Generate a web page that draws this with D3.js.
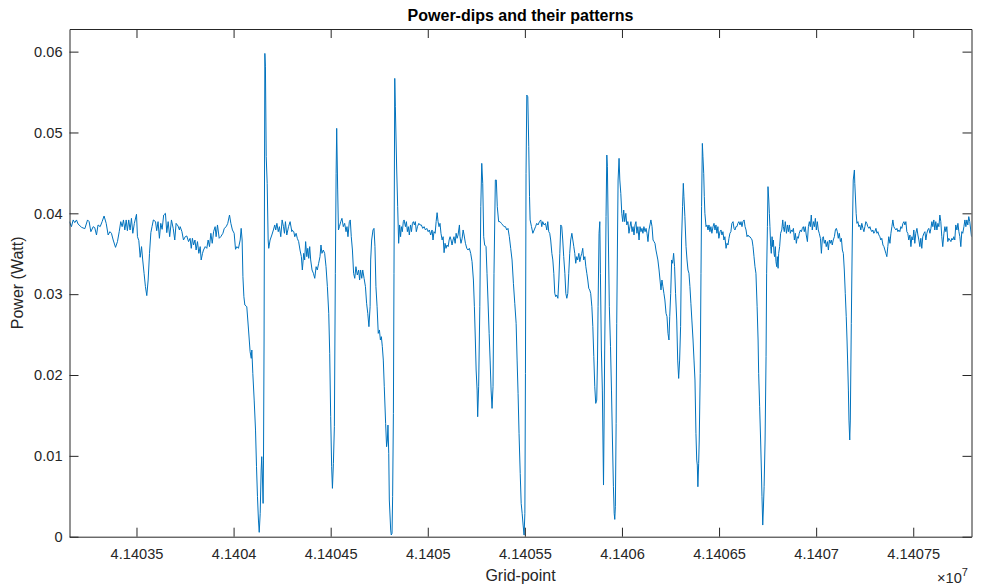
<!DOCTYPE html>
<html>
<head>
<meta charset="utf-8">
<script src="https://cdn.jsdelivr.net/npm/d3@7"></script>
<style>
  html, body { margin: 0; padding: 0; background: #fff; }
  svg { display: block; font-family: "Liberation Sans", Arial, Helvetica, sans-serif; }
</style>
</head>
<body>
<svg id="chart" width="982" height="587"></svg>
<script>
// Grid-point index of each sample
const gridPoint = [
  41403155,41403165,41403174,41403182,41403191,41403199,41403217,41403234,41403248,41403256,41403265,41403277,41403285,41403294,41403302,41403313,41403323,41403333,41403344,41403354,41403363,41403371,41403380,41403392,41403402,41403411,41403419,41403426,41403433,41403440,41403447,41403453,41403460,41403467,41403474,41403481,41403489,41403500,41403505,41403512,41403519,41403526,41403532,41403539,41403546,41403553,41403560,41403567,41403574,41403580,41403587,41403598,41403604,41403611,41403618,41403625,41403632,41403640,41403649,41403656,41403663,41403671,41403680,41403689,41403697,41403704,41403714,41403721,
  41403725,41403734,41403742,41403751,41403759,41403768,41403776,41403782,41403788,41403794,41403801,41403807,41403814,41403821,41403828,41403833,41403840,41403845,41403854,41403862,41403869,41403876,41403883,41403890,41403897,41403905,41403910,41403917,41403926,41403934,41403945,41403952,41403962,41403970,41403979,41403986,41403994,41404003,41404010,41404017,41404025,41404034,41404039,41404044,41404048,41404053,41404058,41404068,41404077,41404085,41404091,41404094,41404099,41404106,41404113,41404118,41404123,41404128,41404132,41404137,41404142,41404145,41404149,41404152,41404154,41404157,41404161,41404164,41404168,41404173,41404178,41404181,41404188,41404197,41404205,41404212,41404217,41404223,41404230,41404236,41404243,41404250,41404257,41404262,41404267,41404274,41404283,41404291,41404300,
  41404301,41404310,41404315,41404322,41404328,41404335,41404342,41404349,41404354,41404361,41404366,41404371,41404377,41404382,41404387,41404392,41404397,41404404,41404411,41404418,41404425,41404431,41404438,41404445,41404450,41404455,41404462,41404469,41404476,41404483,41404490,41404495,41404500,41404505,41404509,41404514,41404519,41404524,41404528,41404531,41404536,41404540,41404545,41404552,41404558,41404565,41404572,41404579,41404584,41404589,41404596,41404601,41404606,41404612,41404618,41404624,41404630,41404637,41404644,41404649,41404654,41404660,41404665,41404672,41404679,41404685,41404691,41404697,41404703,41404706,41404711,41404718,41404723,41404728,41404733,41404739,41404745,41404751,41404756,41404761,41404766,41404771,41404776,41404783,41404788,41404792,41404795,41404799,41404802,41404809,41404812,41404816,41404819,41404823,41404826,41404830,41404833,41404840,41404845,41404850,41404855,41404860,41404864,41404869,41404874,
  41404878,41404885,41404890,41404895,41404900,41404905,41404911,41404916,41404921,41404926,41404931,41404936,41404941,41404947,41404954,41404960,41404967,41404974,41404981,41404988,41404995,41405002,41405008,41405015,41405022,41405027,41405032,41405038,41405043,41405048,41405053,41405058,41405063,41405068,41405074,41405079,41405084,41405089,41405094,41405099,41405105,41405110,41405115,41405120,41405125,41405130,41405135,41405141,41405146,41405151,41405156,41405163,41405166,41405171,41405177,41405182,41405187,41405194,41405201,41405207,41405214,41405221,41405228,41405235,41405240,41405245,41405249,41405254,41405257,41405262,41405268,41405273,41405278,41405283,41405288,41405293,41405300,41405305,41405310,41405316,41405321,41405326,41405331,41405336,41405341,41405348,41405353,41405358,41405365,41405372,41405379,41405386,41405393,41405400,41405407,41405413,41405420,41405427,41405434,41405441,41405448,
  41405455,41405460,41405465,41405470,41405476,41405481,41405486,41405491,41405496,41405500,41405503,41405506,41405510,41405515,41405520,41405524,41405527,41405534,41405541,41405548,41405555,41405561,41405568,41405575,41405582,41405587,41405592,41405599,41405606,41405613,41405618,41405623,41405628,41405633,41405639,41405644,41405649,41405654,41405659,41405664,41405670,41405675,41405680,41405685,41405690,41405695,41405700,41405706,41405711,41405716,41405721,41405726,41405731,41405736,41405742,41405747,41405752,41405757,41405762,41405767,41405772,41405778,41405783,41405788,41405793,41405798,41405803,41405809,41405814,41405819,41405824,41405829,41405834,41405839,41405845,41405850,41405855,41405860,41405865,41405870,41405874,41405877,41405882,41405886,41405889,41405894,41405899,41405905,41405908,41405911,41405915,41405918,41405922,41405925,41405930,41405935,41405941,41405946,41405951,41405956,41405960,41405963,41405966,41405970,41405973,41405977,41405980,41405985,41405989,41405994,41405999,41406004,41406009,41406014,41406020,41406025,41406030,
  41406031,41406036,41406041,41406046,41406052,41406057,41406062,41406067,41406072,41406077,41406082,41406088,41406093,41406098,41406103,41406108,41406113,41406119,41406124,41406129,41406134,41406139,41406144,41406149,41406155,41406160,41406165,41406170,41406175,41406180,41406185,41406191,41406196,41406201,41406206,41406211,41406216,41406221,41406227,41406232,41406237,41406242,41406246,41406251,41406256,41406261,41406266,41406271,41406276,41406282,41406287,41406292,41406297,41406302,41406307,41406312,41406316,41406319,41406324,41406330,41406335,41406340,41406345,41406350,41406355,41406360,41406366,41406371,41406376,41406381,41406385,41406388,41406391,41406395,41406398,41406403,41406407,41406410,41406414,41406417,41406421,41406424,41406427,41406433,41406438,41406443,41406448,41406453,41406458,41406463,41406469,41406474,41406479,41406484,41406489,41406494,41406499,41406505,41406510,41406515,41406520,41406525,41406530,41406536,41406541,41406546,41406551,41406556,41406561,41406566,41406572,41406577,41406582,41406587,41406592,41406597,41406602,
  41406608,41406613,41406618,41406623,41406629,41406634,41406639,41406644,41406649,41406654,41406659,41406665,41406670,41406675,41406680,41406685,41406690,41406696,41406701,41406704,41406709,41406714,41406718,41406721,41406725,41406728,41406732,41406737,41406742,41406745,41406749,41406752,41406756,41406759,41406762,41406766,41406769,41406773,41406776,41406780,41406783,41406786,41406790,41406793,41406797,41406800,41406804,41406807,41406812,41406817,41406823,41406828,41406831,41406836,41406841,41406847,41406852,41406857,41406862,41406867,41406872,41406877,41406883,41406888,41406893,41406898,41406903,41406908,41406913,41406919,41406924,41406929,41406934,41406939,41406944,41406949,41406955,41406960,41406965,41406970,41406975,41406980,41406986,41406991,41406996,41407001,41407006,41407011,41407016,41407022,41407027,41407032,41407037,41407042,41407047,41407052,41407058,41407063,41407068,41407073,41407078,41407083,41407088,41407094,41407099,41407104,41407109,41407114,41407119,41407125,41407130,41407135,41407140,41407145,41407150,41407155,41407159,41407162,41407166,41407169,41407173,41407176,41407181,41407186,41407191,41407197,
  41407199,41407203,41407206,41407210,41407215,41407220,41407225,41407230,41407235,41407241,41407246,41407251,41407256,41407261,41407266,41407272,41407277,41407282,41407287,41407292,41407297,41407302,41407308,41407313,41407318,41407323,41407328,41407333,41407338,41407344,41407349,41407354,41407359,41407364,41407369,41407374,41407380,41407385,41407390,41407395,41407400,41407405,41407411,41407416,41407421,41407426,41407431,41407436,41407441,41407447,41407452,41407457,41407462,41407467,41407472,41407477,41407483,41407488,41407493,41407498,41407503,41407508,41407513,41407519,41407524,41407529,41407534,41407539,41407544,41407549,41407555,41407560,41407565,41407570,41407575,41407580,41407586,41407591,41407596,41407601,41407606,41407611,41407616,41407622,41407627,41407632,41407637,41407642,41407647,41407652,41407658,41407663,41407668,41407673,41407678,41407683,41407689,41407694,41407699,41407704,41407709,41407714,41407719,41407725,41407730,41407735,41407740,41407745,41407750,41407755,41407761,41407766,41407771,41407776,41407781,41407786,41407791,41407800
];

// Measured power (W) at each grid point
const powerWatt = [
  0.03897,0.03835,0.03918,0.03885,0.03918,0.03868,0.03827,0.0381,0.03918,0.03897,0.03773,0.03835,0.03823,0.03732,0.03856,0.03835,0.03897,0.03967,0.03876,0.03732,0.03773,0.03753,0.0367,0.03579,0.0365,0.03773,0.03897,0.03835,0.03918,0.03794,0.03918,0.03785,0.03918,0.03794,0.03938,0.03753,0.03876,0.03988,0.03711,0.03662,0.03456,0.03588,0.03423,0.03258,0.03093,0.02982,0.03175,0.03505,0.03761,0.03835,0.03918,0.03897,0.03785,0.03897,0.03691,0.03876,0.03802,0.03979,0.04,0.03761,0.03897,0.03711,0.03918,0.03814,0.0367,0.03876,0.03843,0.03794,
  0.03835,0.03773,0.0367,0.03711,0.0372,0.0365,0.03691,0.03567,0.03691,0.03608,0.0367,0.03546,0.0365,0.03505,0.03588,0.03423,0.03505,0.03546,0.03588,0.03567,0.0367,0.03588,0.03753,0.03629,0.03773,0.03835,0.03711,0.03856,0.03691,0.03711,0.03753,0.03814,0.03835,0.03876,0.03979,0.03876,0.03794,0.03753,0.03555,0.03588,0.03567,0.0367,0.03814,0.0367,0.03217,0.02969,0.02866,0.02845,0.02557,0.02289,0.02206,0.02309,0.0202,0.0169,0.01319,0.00866,0.00495,0.00206,0.00054,0.00289,0.00825,0.0099,0.00701,0.00412,0.00948,0.02433,0.05978,0.05813,0.04701,0.04371,0.0367,0.03567,0.0367,0.03732,0.03794,0.03856,0.03794,0.03876,0.03773,0.03835,0.03711,0.03918,0.03835,0.03753,0.03897,0.03732,0.03835,0.03897,0.03773,
  0.03794,0.03773,0.03711,0.03753,0.03691,0.0365,0.03546,0.03464,0.03299,0.03505,0.03423,0.0365,0.03464,0.03567,0.03443,0.03588,0.03423,0.03299,0.03258,0.03196,0.0334,0.03299,0.03382,0.03464,0.03608,0.03505,0.03546,0.03505,0.0334,0.03093,0.02763,0.02268,0.01484,0.00866,0.00598,0.00907,0.01361,0.03258,0.04495,0.05051,0.04289,0.03794,0.03835,0.03897,0.03938,0.03835,0.03876,0.03773,0.03835,0.03711,0.03897,0.03918,0.03711,0.03546,0.03258,0.03196,0.0334,0.03237,0.03299,0.03175,0.03299,0.03196,0.03299,0.03196,0.03093,0.02887,0.02763,0.02598,0.02845,0.03423,0.0367,0.03794,0.03814,0.03588,0.03093,0.02845,0.02515,0.02557,0.02433,0.02474,0.0235,0.02185,0.01855,0.01402,0.01113,0.01196,0.01381,0.01031,0.00454,0.00082,0.00021,0.00041,0.00495,0.01525,0.03258,0.05669,0.05319,0.04536,0.04082,0.03629,0.03856,0.03711,0.03835,0.03773,0.03897,
  0.03918,0.03835,0.03897,0.03773,0.03835,0.03732,0.03856,0.03773,0.03876,0.03897,0.03856,0.03897,0.03773,0.03835,0.03876,0.03856,0.03856,0.03814,0.03835,0.03794,0.03814,0.03773,0.03794,0.03732,0.03794,0.0367,0.03773,0.03753,0.03897,0.04008,0.03897,0.03835,0.03876,0.03753,0.0367,0.03711,0.03513,0.03629,0.03567,0.03608,0.03588,0.0367,0.03711,0.0367,0.03608,0.0367,0.03711,0.03629,0.03753,0.03691,0.03732,0.03856,0.03711,0.03629,0.03691,0.03794,0.03732,0.03629,0.03567,0.03546,0.03567,0.03505,0.03402,0.03175,0.02845,0.02433,0.02062,0.01814,0.01484,0.01855,0.02845,0.04082,0.04618,0.04371,0.03711,0.03608,0.03588,0.03258,0.02928,0.02515,0.02185,0.01814,0.01587,0.01855,0.03258,0.04412,0.04412,0.04082,0.03897,0.03897,0.03876,0.03856,0.03835,0.03835,0.03794,0.03814,0.03711,0.03567,0.03423,0.03134,0.02887,
  0.02639,0.02185,0.01773,0.01278,0.00783,0.00412,0.00289,0.00144,0.0002,0.00289,0.0202,0.04495,0.05463,0.05442,0.04824,0.04206,0.03918,0.03835,0.03753,0.03794,0.03835,0.03876,0.03856,0.03897,0.03918,0.03835,0.03897,0.03856,0.03876,0.03794,0.03897,0.03773,0.03753,0.0367,0.03505,0.03423,0.03258,0.0301,0.02969,0.0299,0.02949,0.03175,0.03505,0.03856,0.03835,0.0367,0.03464,0.03258,0.0301,0.02949,0.0301,0.03258,0.03505,0.0367,0.03753,0.0367,0.03588,0.03505,0.03382,0.03464,0.03423,0.03505,0.03402,0.03464,0.03505,0.03567,0.03423,0.03464,0.0334,0.03258,0.03175,0.03072,0.03052,0.0301,0.02845,0.02598,0.02227,0.01855,0.01649,0.0169,0.02185,0.02845,0.03753,0.03897,0.03258,0.02309,0.01814,0.00639,0.01443,0.02309,0.03175,0.03959,0.04721,0.04577,0.0367,0.02845,0.0235,0.01814,0.01196,0.00618,0.00289,0.00214,0.00371,0.01402,0.02639,0.0367,0.04412,0.0468,0.04412,0.04247,0.04,0.03897,0.04041,0.03897,0.04,0.03856,0.03897,
  0.03897,0.03753,0.03835,0.03897,0.03773,0.03835,0.03732,0.03856,0.03897,0.03753,0.03835,0.0367,0.03835,0.03773,0.03814,0.03753,0.03835,0.03773,0.03814,0.03753,0.0365,0.03794,0.03856,0.03918,0.03835,0.0367,0.0365,0.03629,0.03546,0.03485,0.03423,0.03299,0.03175,0.03052,0.03175,0.03093,0.0301,0.02928,0.02763,0.02722,0.02515,0.02433,0.02722,0.0301,0.03423,0.03382,0.03505,0.0334,0.0301,0.0268,0.02185,0.01958,0.02185,0.02598,0.0367,0.04082,0.04371,0.04206,0.03959,0.03588,0.03423,0.03299,0.03258,0.03093,0.02887,0.0268,0.02433,0.02185,0.01938,0.01278,0.00948,0.00886,0.00618,0.00907,0.01196,0.0202,0.03258,0.04082,0.04865,0.04701,0.04495,0.04206,0.04,0.03835,0.03856,0.03794,0.03856,0.03773,0.03835,0.03753,0.03835,0.03876,0.03794,0.03856,0.03753,0.03835,0.03691,0.03773,0.03794,0.03732,0.03773,0.0367,0.03711,0.03567,0.03629,0.03608,0.03691,0.03753,0.03773,0.03876,0.03897,0.03814,0.03794,0.03835,0.03835,0.03876,0.03897,
  0.03856,0.03897,0.03835,0.03897,0.03918,0.03835,0.03794,0.03711,0.03732,0.03711,0.03711,0.03691,0.0367,0.03588,0.03464,0.0334,0.03258,0.02845,0.02433,0.0202,0.01608,0.01196,0.00825,0.00495,0.00144,0.0033,0.00618,0.01196,0.02227,0.03258,0.03835,0.0433,0.04165,0.04,0.03835,0.03588,0.03505,0.03711,0.03588,0.0367,0.03505,0.03464,0.03588,0.03402,0.0334,0.03464,0.0332,0.03505,0.03588,0.03753,0.03794,0.03918,0.03835,0.03773,0.03897,0.03753,0.03856,0.03773,0.03856,0.03753,0.03794,0.03773,0.03814,0.0367,0.03753,0.03629,0.03711,0.03691,0.03753,0.03794,0.03773,0.03814,0.03835,0.03773,0.03835,0.03732,0.0365,0.03835,0.03897,0.03835,0.03979,0.03794,0.03897,0.03835,0.03938,0.03794,0.03897,0.03794,0.03753,0.03691,0.03505,0.03691,0.03711,0.03629,0.0367,0.03588,0.0365,0.03546,0.0367,0.03629,0.0367,0.03608,0.0367,0.03711,0.03794,0.03814,0.03773,0.03691,0.03753,0.0365,0.03691,0.03546,0.03505,0.03299,0.0301,0.02722,0.02433,0.02185,0.01814,0.01443,0.01196,0.01443,0.02639,0.0367,0.04412,0.04536,
  0.04371,0.04165,0.04,0.03876,0.03897,0.03835,0.03856,0.03794,0.03876,0.03814,0.03773,0.03835,0.03897,0.03876,0.03835,0.03814,0.03835,0.03794,0.03773,0.03794,0.03753,0.03773,0.03814,0.03753,0.03773,0.03732,0.03711,0.0367,0.03691,0.03608,0.03588,0.03546,0.03505,0.03464,0.03588,0.03711,0.03629,0.03753,0.03835,0.03918,0.03835,0.03814,0.03794,0.03814,0.03773,0.03794,0.03773,0.03835,0.03814,0.03876,0.03897,0.03856,0.03897,0.03773,0.03753,0.0367,0.03732,0.03588,0.03711,0.0367,0.03794,0.03629,0.03753,0.03814,0.03732,0.0367,0.03588,0.03691,0.03567,0.03711,0.03753,0.03773,0.0367,0.03753,0.03794,0.03814,0.03753,0.03814,0.03897,0.03835,0.03918,0.03794,0.03897,0.03794,0.03876,0.03835,0.03979,0.03897,0.03711,0.03588,0.03753,0.03835,0.03773,0.03835,0.0365,0.03691,0.0367,0.0365,0.03691,0.0367,0.03711,0.0367,0.03856,0.03794,0.03876,0.03773,0.03711,0.03588,0.03773,0.03753,0.03835,0.03918,0.03835,0.03918,0.03856,0.03959,0.03897,0.03711
];

const xTickValues = [41403500, 41404000, 41404500, 41405000, 41405500, 41406000, 41406500, 41407000, 41407500];
const xTickLabels = ["4.14035", "4.1404", "4.14045", "4.1405", "4.14055", "4.1406", "4.14065", "4.1407", "4.14075"];
const yTickValues = [0, 0.01, 0.02, 0.03, 0.04, 0.05, 0.06];
const yTickLabels = ["0", "0.01", "0.02", "0.03", "0.04", "0.05", "0.06"];

const chartTitle = "Power-dips and their patterns";
const xAxisTitle = "Grid-point";
const yAxisTitle = "Power (Watt)";

const W = 982, H = 587;
const box = { left: 69.5, right: 971.5, top: 29, bottom: 536.7 };
const axisColor = "#262626";
const lineColor = "#0072BD";
const tickLen = 9;
const fontSize = 14.6;

const svg = d3.select("#chart");

const x = d3.scaleLinear().domain([41403155, 41407800]).range([box.left, box.right]);
const y = d3.scaleLinear().domain([0, 0.0628]).range([box.bottom, box.top]);

const series = gridPoint.map((g, i) => ({ g, p: powerWatt[i] }));

// Clip the trace to the axes box
svg.append("defs").append("clipPath").attr("id", "plotClip")
  .append("rect")
  .attr("x", box.left).attr("y", box.top)
  .attr("width", box.right - box.left).attr("height", box.bottom - box.top);

// Power trace
svg.append("path")
  .datum(series)
  .attr("clip-path", "url(#plotClip)")
  .attr("fill", "none")
  .attr("stroke", lineColor)
  .attr("stroke-width", 1)
  .attr("stroke-linejoin", "round")
  .attr("d", d3.line().x(d => x(d.g)).y(d => y(d.p)));

function styleAxis(g) {
  g.selectAll(".domain").attr("stroke", axisColor).attr("stroke-width", 1);
  g.selectAll(".tick line").attr("stroke", axisColor).attr("stroke-width", 1);
  g.selectAll(".tick text")
    .attr("fill", axisColor)
    .style("font-size", fontSize + "px")
    .style("font-family", '"Liberation Sans", Arial, Helvetica, sans-serif');
}

// Bottom axis with labels, ticks pointing inward
svg.append("g")
  .attr("transform", `translate(0,${box.bottom})`)
  .call(d3.axisBottom(x).tickValues(xTickValues)
    .tickFormat((d, i) => xTickLabels[i])
    .tickSizeInner(-tickLen).tickSizeOuter(0).tickPadding(12))
  .call(styleAxis);

// Top axis: ticks only
svg.append("g")
  .attr("transform", `translate(0,${box.top})`)
  .call(d3.axisTop(x).tickValues(xTickValues).tickFormat("")
    .tickSizeInner(-tickLen).tickSizeOuter(0))
  .call(styleAxis);

// Left axis with labels
svg.append("g")
  .attr("transform", `translate(${box.left},0)`)
  .call(d3.axisLeft(y).tickValues(yTickValues)
    .tickFormat((d, i) => yTickLabels[i])
    .tickSizeInner(-tickLen).tickSizeOuter(0).tickPadding(7))
  .call(styleAxis);

// Right axis: ticks only
svg.append("g")
  .attr("transform", `translate(${box.right},0)`)
  .call(d3.axisRight(y).tickValues(yTickValues).tickFormat("")
    .tickSizeInner(-tickLen).tickSizeOuter(0))
  .call(styleAxis);

// Title
svg.append("text")
  .attr("x", (box.left + box.right) / 2)
  .attr("y", 21)
  .attr("text-anchor", "middle")
  .attr("font-weight", "bold")
  .attr("fill", "#000")
  .style("font-size", "16px")
  .text(chartTitle);

// Axis titles
svg.append("text")
  .attr("x", (box.left + box.right) / 2)
  .attr("y", 581)
  .attr("text-anchor", "middle")
  .attr("fill", axisColor)
  .style("font-size", "16px")
  .text(xAxisTitle);

svg.append("text")
  .attr("transform", `translate(23,${(box.top + box.bottom) / 2}) rotate(-90)`)
  .attr("text-anchor", "middle")
  .attr("fill", axisColor)
  .style("font-size", "16px")
  .text(yAxisTitle);

// Exponent for the x tick labels
const expo = svg.append("text")
  .attr("x", 937)
  .attr("y", 583)
  .attr("fill", axisColor)
  .style("font-size", fontSize + "px");
expo.append("tspan").text("\u00d710");
expo.append("tspan").attr("dy", -7).style("font-size", "11px").text("7");
</script>
</body>
</html>
